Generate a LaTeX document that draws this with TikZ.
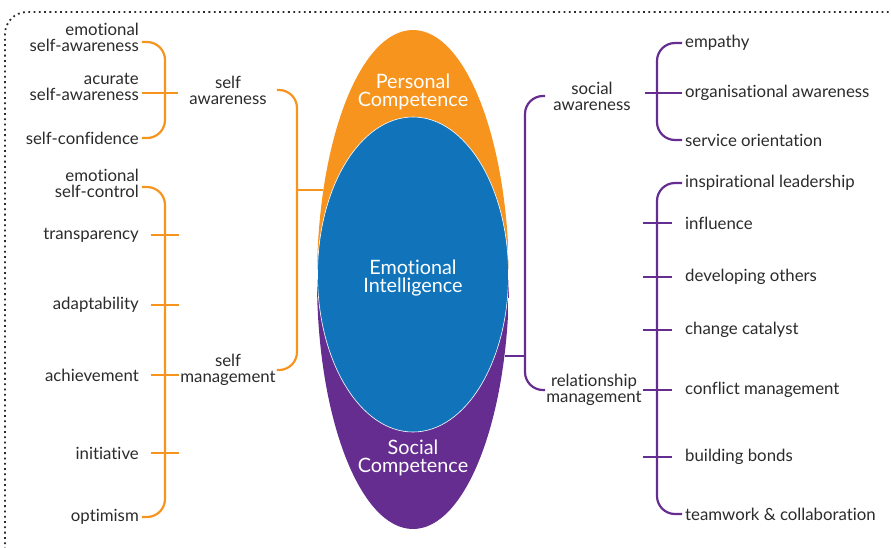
\documentclass[tikz,border=0pt]{standalone}
\usepackage{fontspec}
\setmainfont{Lato}[Ligatures=NoCommon]
\usetikzlibrary{shapes.geometric}
\definecolor{eiorange}{HTML}{F7941D}
\definecolor{eiblue}{HTML}{1174BB}
\definecolor{eipurple}{HTML}{662D91}
\definecolor{eitext}{HTML}{2B2B2B}

\begin{document}
\begin{tikzpicture}[x=1pt,y=-1pt,
    litem/.style={anchor=east,align=right,text=eitext,inner sep=3pt,font=\fontsize{16.8}{16}\selectfont},
    ritem/.style={anchor=west,align=left,text=eitext,inner sep=3pt,font=\fontsize{16.8}{16}\selectfont},
    glabel/.style={align=center,text=eitext,inner sep=1pt,font=\fontsize{16.8}{16}\selectfont},
    ctext/.style={align=center,text=white,font=\fontsize{19.8}{18.5}\selectfont},
    orline/.style={eiorange,line width=2.2pt,rounded corners=18pt},
    puline/.style={eipurple,line width=2.2pt,rounded corners=18pt}]
    \useasboundingbox (0,0) rectangle (891,547);
    \draw[eitext,line width=1.8pt,dash pattern=on 1.8pt off 3.5pt,rounded corners=22pt] (5,560) |- (900,12);

    % core ellipses
    \node[ellipse,minimum width=192pt,minimum height=499pt,inner sep=0pt,
        path picture={\fill[eiorange](path picture bounding box.north west)rectangle(path picture bounding box.east);
                      \fill[eipurple](path picture bounding box.south west)rectangle(path picture bounding box.east);}]
        (ec) at (413,279.5) {};
    \node[ellipse,fill=eiblue,draw=white,line width=.6pt,minimum width=191pt,minimum height=315pt,inner sep=0pt]
        (ei) at (413,274.5) {};
    \node[ctext] (pc) at (413,92) {Personal\\Competence};
    \node[ctext] (emi) at (413,278) {Emotional\\Intelligence};
    \node[ctext] (scc) at (413,458) {Social\\Competence};

    % left side
    \node[litem] (esa) at (142,37) {emotional\\self-awareness};
    \node[litem] (asa) at (142,87) {acurate\\self-awareness};
    \node[litem] (sc) at (142,138) {self-confidence};
    \node[litem] (esc) at (142,183) {emotional\\self-control};
    \node[litem] (tr) at (142,235) {transparency};
    \node[litem] (ad) at (142,305) {adaptability};
    \node[litem] (ac) at (142,375) {achievement};
    \node[litem] (in) at (142,453) {initiative};
    \node[litem] (op) at (142,517) {optimism};
    \node[glabel] (saw) at (228,90) {self\\awareness};
    \node[glabel] (smg) at (228,370) {self\\management};

    % right side
    \node[glabel] (swa) at (592,96) {social\\awareness};
    \node[glabel] (rmg) at (594,390) {relationship\\management};
    \node[ritem] (em) at (682,43) {empathy};
    \node[ritem] (oa) at (682,93) {organisational awareness};
    \node[ritem] (so) at (682,140) {service orientation};
    \node[ritem] (il) at (682,183) {inspirational leadership};
    \node[ritem] (inf) at (682,223) {influence};
    \node[ritem] (dev) at (682,277) {developing others};
    \node[ritem] (cc) at (682,330) {change catalyst};
    \node[ritem] (cm) at (682,390) {conflict management};
    \node[ritem] (bb) at (682,457) {building bonds};
    \node[ritem] (tw) at (682,514) {teamwork \& collaboration};

    \coordinate (lspine) at (165,0);
    \coordinate (ospine) at (297,0);
    \coordinate (pspine) at (525,0);
    \coordinate (rspine) at (657,0);

    % personal competence
    \draw[orline] ([yshift=-5pt]esa.east) -| (lspine |- sc.east) -- (sc.east);
    \draw[orline] ([yshift=-6pt]asa.east) -- ++(36,0);
    \draw[orline] ([yshift=-4pt]esc.east) -| (lspine |- op.east) -- (op.east);
    \foreach \n in {tr,ad,ac,in} \draw[orline] (lspine |- \n.east) ++(-14,0) -- ++(28,0);
    \draw[orline] (smg.east |- saw.east) -| (ospine |- smg.east) -- (smg.east);
    \draw[orline] (ospine |- ec.135) -- (ec.135);

    % social competence
    \draw[puline] (rmg.west |- swa.west) -| (pspine |- rmg.west) -- (rmg.west);
    \draw[puline] (ec.320) -- (pspine |- ec.320);
    \draw[puline] (em.west) -| (rspine |- so.west) -- (so.west);
    \draw[puline] (oa.west) -- ++(-37,0);
    \draw[puline] (il.west) -| (rspine |- tw.west) -- (tw.west);
    \foreach \n in {inf,dev,cc,cm,bb} \draw[puline] (rspine |- \n.west) ++(-14,0) -- ++(29,0);
\end{tikzpicture}
\end{document}
